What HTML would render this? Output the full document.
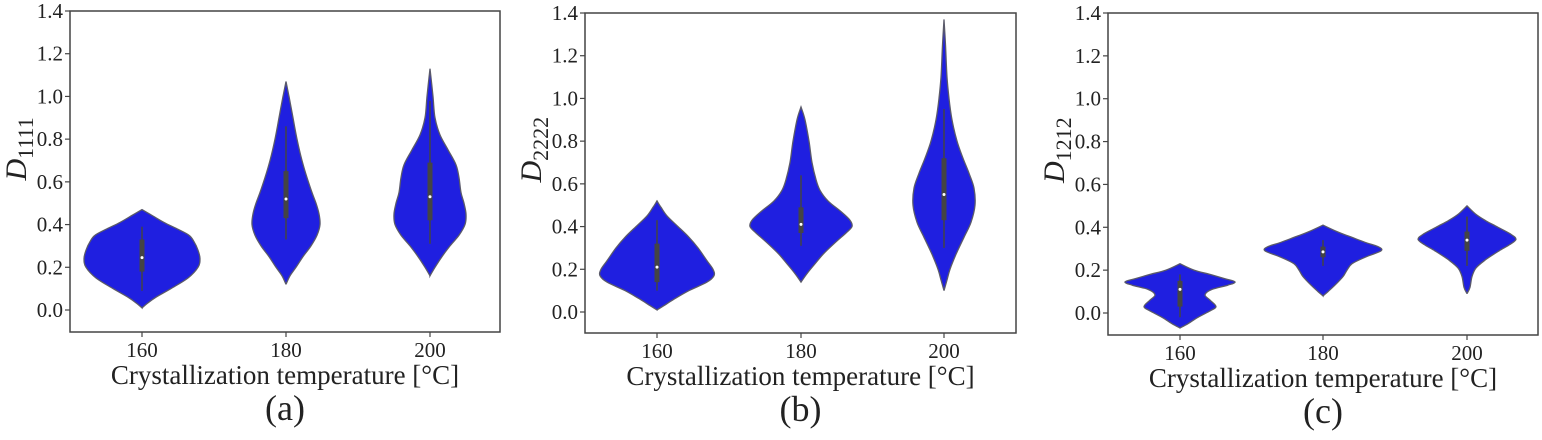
<!DOCTYPE html>
<html><head><meta charset="utf-8"><style>
html,body{margin:0;padding:0;background:#fff;}
svg text{font-family:"Liberation Serif",serif;fill:#222;}
</style></head><body>
<svg id="s" width="1542" height="435" viewBox="0 0 1542 435" xmlns="http://www.w3.org/2000/svg"></svg>
<script>
const NS="http://www.w3.org/2000/svg";
const svg=document.getElementById('s');
function el(t,a,txt){const e=document.createElementNS(NS,t);for(const k in a)e.setAttribute(k,a[k]);if(txt!==undefined)e.textContent=txt;svg.appendChild(e);return e;}
const panels=[
 {L:70,R:500,T:11,Y0:310,B:332,xs:[142,286,430],lab:"(a)",sub:"1111",
  v:[
   {p:[[0.01,0],[0.03,5],[0.06,14],[0.1,29],[0.15,46],[0.2,56],[0.24,58],[0.28,56],[0.32,52],[0.35,47],[0.38,35],[0.41,22],[0.44,11],[0.47,0]],b:[0.18,0.33,0.09,0.39,0.245]},
   {p:[[0.12,0],[0.16,4],[0.2,10],[0.25,17],[0.3,25],[0.35,31],[0.4,34],[0.45,33],[0.5,30],[0.55,26],[0.62,21],[0.7,16],[0.8,11],[0.9,7],[1.0,3],[1.07,0]],b:[0.43,0.65,0.33,0.86,0.52]},
   {p:[[0.16,0],[0.2,5],[0.25,12],[0.3,20],[0.35,29],[0.4,35],[0.45,36],[0.5,34],[0.55,31],[0.62,29],[0.68,26],[0.75,18],[0.82,10],[0.9,5],[1.0,3],[1.13,0]],b:[0.42,0.69,0.31,0.98,0.53]}]},
 {L:585,R:1016,T:13,Y0:312,B:333,xs:[657,801,944],lab:"(b)",sub:"2222",
  v:[
   {p:[[0.01,0],[0.03,7],[0.06,17],[0.1,32],[0.14,50],[0.17,57],[0.2,56],[0.24,50],[0.3,41],[0.35,32],[0.4,21],[0.45,10],[0.49,4],[0.52,0]],b:[0.14,0.32,0.10,0.43,0.21]},
   {p:[[0.14,0],[0.18,6],[0.22,13],[0.27,22],[0.32,33],[0.37,45],[0.4,51],[0.43,49],[0.47,40],[0.52,27],[0.57,19],[0.62,15],[0.7,11],[0.8,8],[0.9,4],[0.96,0]],b:[0.37,0.49,0.31,0.64,0.41]},
   {p:[[0.1,0],[0.15,3],[0.2,6],[0.27,12],[0.35,20],[0.42,27],[0.5,31],[0.58,30],[0.65,25],[0.72,19],[0.8,13],[0.9,8],[1.0,5],[1.1,3],[1.25,1.5],[1.37,0]],b:[0.43,0.72,0.3,0.95,0.55]}]},
 {L:1108,R:1538,T:13,Y0:313,B:335,xs:[1180,1323,1467],lab:"(c)",sub:"1212",
  v:[
   {p:[[-0.07,0],[-0.05,8],[-0.02,18],[0.01,30],[0.03,36],[0.06,30],[0.085,25],[0.11,32],[0.13,48],[0.145,55],[0.16,45],[0.18,30],[0.2,14],[0.23,0]],b:[0.03,0.15,-0.02,0.18,0.11]},
   {p:[[0.08,0],[0.1,5],[0.13,12],[0.17,20],[0.2,24],[0.23,29],[0.26,42],[0.29,58],[0.31,55],[0.33,42],[0.36,25],[0.38,14],[0.41,0]],b:[0.26,0.31,0.22,0.34,0.285]},
   {p:[[0.09,0],[0.12,3],[0.17,5],[0.21,9],[0.25,19],[0.29,32],[0.32,43],[0.345,49],[0.37,43],[0.4,31],[0.43,19],[0.46,9],[0.5,0]],b:[0.29,0.38,0.22,0.45,0.34]}]}
];
function cr(pts){
 let d="";
 for(let i=0;i<pts.length-1;i++){
  const p0=pts[Math.max(i-1,0)],p1=pts[i],p2=pts[i+1],p3=pts[Math.min(i+2,pts.length-1)];
  const c1=[p1[0]+(p2[0]-p0[0])/6,p1[1]+(p2[1]-p0[1])/6];
  const c2=[p2[0]-(p3[0]-p1[0])/6,p2[1]-(p3[1]-p1[1])/6];
  d+=` C${c1[0].toFixed(1)},${c1[1].toFixed(1)} ${c2[0].toFixed(1)},${c2[1].toFixed(1)} ${p2[0].toFixed(1)},${p2[1].toFixed(1)}`;
 }
 return d;
}
panels.forEach(P=>{
 const sc=(P.Y0-P.T)/1.4, y=v=>P.Y0-v*sc;
 el('rect',{x:P.L,y:P.T,width:P.R-P.L,height:P.B-P.T,fill:'none',stroke:'#444','stroke-width':1.5});
 for(let i=0;i<=7;i++){const v=i*0.2,yy=y(v);
  el('line',{x1:P.L-5,x2:P.L,y1:yy,y2:yy,stroke:'#444','stroke-width':1.2});
  el('text',{x:P.L-7,y:yy+7,'text-anchor':'end','font-size':21},v.toFixed(1));}
 const cx=(P.L+P.R)/2;
 P.xs.forEach((x,i)=>{
  el('line',{x1:x,x2:x,y1:P.B,y2:P.B+5,stroke:'#444','stroke-width':1.2});
  el('text',{x:x,y:P.B+25,'text-anchor':'middle','font-size':21},["160","180","200"][i]);
  const V=P.v[i];
  const right=V.p.map(q=>[x+q[1],y(q[0])]);
  const left=V.p.slice().reverse().map(q=>[x-q[1],y(q[0])]);
  let d=`M${right[0][0]},${right[0][1]}`+cr(right)+cr(left)+"Z";
  el('path',{d:d,fill:'#1f1fe0',stroke:'#5a5a6a','stroke-width':1.3});
  const b=V.b;
  el('line',{x1:x,x2:x,y1:y(b[2]),y2:y(b[3]),stroke:'#444','stroke-width':1.5});
  el('line',{x1:x,x2:x,y1:y(b[0]),y2:y(b[1]),stroke:'#444','stroke-width':5});
  el('circle',{cx:x,cy:y(b[4]),r:1.5,fill:'#fff'});
 });
 el('text',{x:cx,y:P.B+52,'text-anchor':'middle','font-size':27},"Crystallization temperature [°C]");
 el('text',{x:cx,y:P.B+88,'text-anchor':'middle','font-size':36},P.lab);
 const g=el('text',{transform:`translate(${P.L-44},${(P.T+P.Y0)/2+20}) rotate(-90)`,'font-size':30});
 const t1=document.createElementNS(NS,'tspan');t1.setAttribute('font-style','italic');t1.textContent='D';g.appendChild(t1);
 const t2=document.createElementNS(NS,'tspan');t2.setAttribute('font-size',22);t2.setAttribute('dy',7);t2.textContent=P.sub;g.appendChild(t2);
});
</script>
</body></html>
